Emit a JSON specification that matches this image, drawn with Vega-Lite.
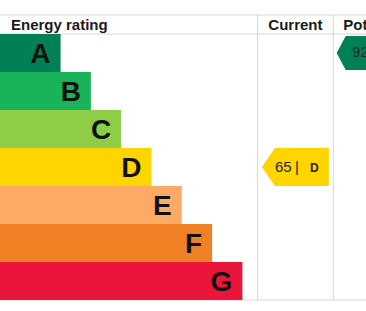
{
  "$schema": "https://vega.github.io/schema/vega-lite/v6.json",
  "width": 366,
  "height": 311,
  "autosize": "none",
  "padding": 0,
  "background": "white",
  "config": {"view": {"stroke": null}, "font": "Liberation Sans", "scale": {"continuousPadding": 0}},
  "datasets": {
    "bands": [
      {"band": "A", "idx": 0, "len": 2},
      {"band": "B", "idx": 1, "len": 3},
      {"band": "C", "idx": 2, "len": 4},
      {"band": "D", "idx": 3, "len": 5},
      {"band": "E", "idx": 4, "len": 6},
      {"band": "F", "idx": 5, "len": 7},
      {"band": "G", "idx": 6, "len": 8}
    ],
    "ratings": [
      {"type": "Current", "score": 65, "band": "D", "idx": 3},
      {"type": "Potential", "score": 92, "band": "A", "idx": 0}
    ],
    "one": [{}]
  },
  "layer": [
    {
      "data": {"name": "one"},
      "mark": {"type": "rule", "color": "#d6d6d6", "strokeWidth": 1},
      "encoding": {
        "y": {"datum": -1, "type": "quantitative", "scale": {"domain": [-1.3947, 6.7895], "reverse": true, "zero": false, "nice": false, "padding": 0}, "axis": null}
      }
    },
    {
      "data": {"name": "one"},
      "mark": {"type": "rule", "color": "#d6d6d6", "strokeWidth": 1},
      "encoding": {
        "y": {"datum": -0.5, "type": "quantitative", "scale": {"domain": [-1.3947, 6.7895], "reverse": true, "zero": false, "nice": false, "padding": 0}, "axis": null}
      }
    },
    {
      "data": {"name": "one"},
      "mark": {"type": "rule", "color": "#d6d6d6", "strokeWidth": 1},
      "encoding": {
        "y": {"datum": 6.5, "type": "quantitative", "scale": {"domain": [-1.3947, 6.7895], "reverse": true, "zero": false, "nice": false, "padding": 0}, "axis": null}
      }
    },
    {
      "data": {"name": "one"},
      "mark": {"type": "rule", "color": "#d6d6d6", "strokeWidth": 1},
      "encoding": {
        "x": {"datum": 8.5, "type": "quantitative", "scale": {"domain": [0, 12.08], "zero": false, "nice": false, "padding": 0}, "axis": null},
        "y": {"datum": -1, "type": "quantitative", "scale": {"domain": [-1.3947, 6.7895], "reverse": true, "zero": false, "nice": false, "padding": 0}, "axis": null},
        "y2": {"datum": 6.5}
      }
    },
    {
      "data": {"name": "one"},
      "mark": {"type": "rule", "color": "#d6d6d6", "strokeWidth": 1},
      "encoding": {
        "x": {"datum": 11, "type": "quantitative", "scale": {"domain": [0, 12.08], "zero": false, "nice": false, "padding": 0}, "axis": null},
        "y": {"datum": -1, "type": "quantitative", "scale": {"domain": [-1.3947, 6.7895], "reverse": true, "zero": false, "nice": false, "padding": 0}, "axis": null},
        "y2": {"datum": 6.5}
      }
    },
    {
      "data": {"name": "bands"},
      "mark": {"type": "bar", "orient": "horizontal", "height": 38},
      "encoding": {
        "x": {"field": "len", "type": "quantitative", "scale": {"domain": [0, 12.08], "zero": false, "nice": false, "padding": 0}, "axis": null},
        "y": {"field": "idx", "type": "quantitative", "scale": {"domain": [-1.3947, 6.7895], "reverse": true, "zero": false, "nice": false, "padding": 0}, "axis": null},
        "color": {"field": "band", "type": "nominal", "legend": null,
          "scale": {"domain": ["A", "B", "C", "D", "E", "F", "G"], "range": ["#008054", "#19b459", "#8dce46", "#ffd500", "#fcaa65", "#ef8023", "#e9153b"]}}
      }
    },
    {
      "data": {"name": "bands"},
      "mark": {"type": "text", "align": "right", "baseline": "alphabetic", "dx": -10, "dy": 10, "fontSize": 28, "fontWeight": "bold", "color": "#111111"},
      "encoding": {
        "x": {"field": "len", "type": "quantitative", "scale": {"domain": [0, 12.08], "zero": false, "nice": false, "padding": 0}, "axis": null},
        "y": {"field": "idx", "type": "quantitative", "scale": {"domain": [-1.3947, 6.7895], "reverse": true, "zero": false, "nice": false, "padding": 0}, "axis": null},
        "text": {"field": "band"}
      }
    },
    {
      "data": {"name": "one"},
      "mark": {"type": "text", "align": "left", "baseline": "alphabetic", "dx": 11, "dy": 6, "fontSize": 15, "fontWeight": "bold", "color": "#1a1a1a"},
      "encoding": {
        "x": {"datum": 0, "type": "quantitative", "scale": {"domain": [0, 12.08], "zero": false, "nice": false, "padding": 0}, "axis": null},
        "y": {"datum": -0.75, "type": "quantitative", "scale": {"domain": [-1.3947, 6.7895], "reverse": true, "zero": false, "nice": false, "padding": 0}, "axis": null},
        "text": {"value": "Energy rating"}
      }
    },
    {
      "data": {"name": "one"},
      "mark": {"type": "text", "align": "center", "baseline": "alphabetic", "dy": 6, "fontSize": 15, "fontWeight": "bold", "color": "#1a1a1a"},
      "encoding": {
        "x": {"datum": 9.75, "type": "quantitative", "scale": {"domain": [0, 12.08], "zero": false, "nice": false, "padding": 0}, "axis": null},
        "y": {"datum": -0.75, "type": "quantitative", "scale": {"domain": [-1.3947, 6.7895], "reverse": true, "zero": false, "nice": false, "padding": 0}, "axis": null},
        "text": {"value": "Current"}
      }
    },
    {
      "data": {"name": "one"},
      "mark": {"type": "text", "align": "left", "baseline": "alphabetic", "dx": 10, "dy": 6, "fontSize": 15, "fontWeight": "bold", "color": "#1a1a1a"},
      "encoding": {
        "x": {"datum": 11, "type": "quantitative", "scale": {"domain": [0, 12.08], "zero": false, "nice": false, "padding": 0}, "axis": null},
        "y": {"datum": -0.75, "type": "quantitative", "scale": {"domain": [-1.3947, 6.7895], "reverse": true, "zero": false, "nice": false, "padding": 0}, "axis": null},
        "text": {"value": "Potential"}
      }
    },
    {
      "data": {"name": "ratings"},
      "transform": [{"filter": "datum.type === 'Current'"}],
      "mark": {"type": "point", "filled": true, "opacity": 1, "strokeWidth": 0, "size": 1444,
        "shape": "M-1.763,0L-1.079,-1L1.763,-1L1.763,1L-1.079,1Z"},
      "encoding": {
        "x": {"datum": 9.75, "type": "quantitative", "scale": {"domain": [0, 12.08], "zero": false, "nice": false, "padding": 0}, "axis": null},
        "y": {"field": "idx", "type": "quantitative", "scale": {"domain": [-1.3947, 6.7895], "reverse": true, "zero": false, "nice": false, "padding": 0}, "axis": null},
        "color": {"field": "band", "type": "nominal", "legend": null,
          "scale": {"domain": ["A", "B", "C", "D", "E", "F", "G"], "range": ["#008054", "#19b459", "#8dce46", "#ffd500", "#fcaa65", "#ef8023", "#e9153b"]}}
      }
    },
    {
      "data": {"name": "ratings"},
      "transform": [{"filter": "datum.type === 'Potential'"}],
      "mark": {"type": "point", "filled": true, "opacity": 1, "strokeWidth": 0, "size": 1156,
        "shape": "M-1.763,0L-1.23,-1L1.763,-1L1.763,1L-1.23,1Z"},
      "encoding": {
        "x": {"datum": 12.1, "type": "quantitative", "scale": {"domain": [0, 12.08], "zero": false, "nice": false, "padding": 0}, "axis": null},
        "y": {"field": "idx", "type": "quantitative", "scale": {"domain": [-1.3947, 6.7895], "reverse": true, "zero": false, "nice": false, "padding": 0}, "axis": null},
        "color": {"field": "band", "type": "nominal", "legend": null,
          "scale": {"domain": ["A", "B", "C", "D", "E", "F", "G"], "range": ["#008054", "#19b459", "#8dce46", "#ffd500", "#fcaa65", "#ef8023", "#e9153b"]}}
      }
    },
    {
      "data": {"name": "ratings"},
      "transform": [{"filter": "datum.type === 'Current'"}],
      "mark": {"type": "text", "align": "left", "baseline": "alphabetic", "dx": -20.5, "dy": 5, "fontSize": 15, "color": "#222222"},
      "encoding": {
        "x": {"datum": 9.75, "type": "quantitative", "scale": {"domain": [0, 12.08], "zero": false, "nice": false, "padding": 0}, "axis": null},
        "y": {"field": "idx", "type": "quantitative", "scale": {"domain": [-1.3947, 6.7895], "reverse": true, "zero": false, "nice": false, "padding": 0}, "axis": null},
        "text": {"field": "score"}
      }
    },
    {
      "data": {"name": "ratings"},
      "transform": [{"filter": "datum.type === 'Current'"}],
      "mark": {"type": "text", "align": "left", "baseline": "alphabetic", "dx": -0.5, "dy": 5, "fontSize": 15, "color": "#222222"},
      "encoding": {
        "x": {"datum": 9.75, "type": "quantitative", "scale": {"domain": [0, 12.08], "zero": false, "nice": false, "padding": 0}, "axis": null},
        "y": {"field": "idx", "type": "quantitative", "scale": {"domain": [-1.3947, 6.7895], "reverse": true, "zero": false, "nice": false, "padding": 0}, "axis": null},
        "text": {"value": "|"}
      }
    },
    {
      "data": {"name": "ratings"},
      "transform": [{"filter": "datum.type === 'Current'"}],
      "mark": {"type": "text", "align": "left", "baseline": "alphabetic", "dx": 14.5, "dy": 5, "fontSize": 12, "fontWeight": "bold", "color": "#222222"},
      "encoding": {
        "x": {"datum": 9.75, "type": "quantitative", "scale": {"domain": [0, 12.08], "zero": false, "nice": false, "padding": 0}, "axis": null},
        "y": {"field": "idx", "type": "quantitative", "scale": {"domain": [-1.3947, 6.7895], "reverse": true, "zero": false, "nice": false, "padding": 0}, "axis": null},
        "text": {"field": "band"}
      }
    },
    {
      "data": {"name": "ratings"},
      "transform": [{"filter": "datum.type === 'Potential'"}],
      "mark": {"type": "text", "align": "left", "baseline": "alphabetic", "dx": -14, "dy": 4, "fontSize": 14, "color": "#1e2a24"},
      "encoding": {
        "x": {"datum": 12.1, "type": "quantitative", "scale": {"domain": [0, 12.08], "zero": false, "nice": false, "padding": 0}, "axis": null},
        "y": {"field": "idx", "type": "quantitative", "scale": {"domain": [-1.3947, 6.7895], "reverse": true, "zero": false, "nice": false, "padding": 0}, "axis": null},
        "text": {"field": "score"}
      }
    }
  ]
}
